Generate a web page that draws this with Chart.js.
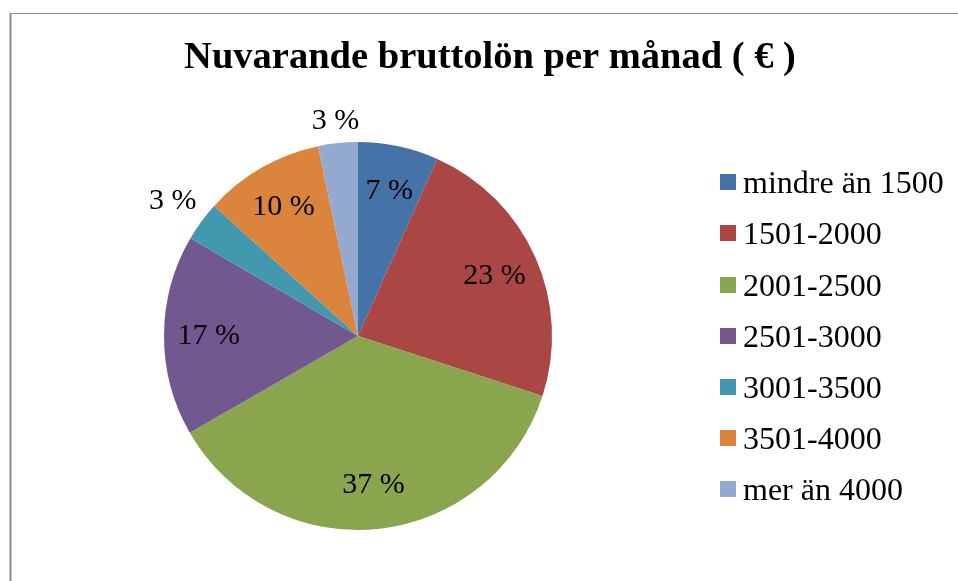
<!DOCTYPE html>
<html><head><meta charset="utf-8">
<script src="https://cdn.jsdelivr.net/npm/chart.js@4.4.0/dist/chart.umd.min.js"></script>
<style>html,body{margin:0;padding:0;background:#fff;} canvas{display:block;}</style>
</head><body>
<canvas id="c" width="958" height="581"></canvas>
<script>
const categories = ['mindre än 1500','1501-2000','2001-2500','2501-3000','3001-3500','3501-4000','mer än 4000'];
const shares = [6.7, 23.3, 36.7, 16.7, 3.3, 10.0, 3.3];
const colors = ['#4572A7','#AA4643','#89A54E','#71588F','#4198AF','#DB843D','#93A9CF'];
const titleText = 'Nuvarande bruttolön per månad ( € )';
const SERIF = '"Liberation Serif","Times New Roman",Times,serif';

const decor = {
  id: 'decor',
  afterDraw(chart) {
    const ctx = chart.ctx;
    ctx.save();
    // frame
    ctx.strokeStyle = '#8c8c8c';
    ctx.lineWidth = 1;
    ctx.beginPath(); ctx.moveTo(10, 13.5); ctx.lineTo(958, 13.5); ctx.stroke();
    ctx.lineWidth = 2;
    ctx.beginPath(); ctx.moveTo(10.5, 13); ctx.lineTo(10.5, 581); ctx.stroke();
    // title
    ctx.fillStyle = '#000';
    ctx.font = 'bold 38.5px ' + SERIF;
    ctx.textAlign = 'center';
    ctx.textBaseline = 'alphabetic';
    ctx.fillText(titleText, 490, 68);
    // legend
    ctx.font = '32px ' + SERIF;
    ctx.textAlign = 'left';
    categories.forEach((c, i) => {
      const cy = 182.3 + i * 51.1;
      ctx.fillStyle = colors[i];
      ctx.fillRect(720, Math.round(cy - 8), 16, 16);
      ctx.fillStyle = '#000';
      ctx.fillText(c, 743, cy + 11);
    });
    // data labels
    const meta = chart.getDatasetMeta(0);
    const total = shares.reduce((a, b) => a + b, 0);
    ctx.font = '30px ' + SERIF;
    ctx.textAlign = 'center';
    ctx.textBaseline = 'middle';
    meta.data.forEach((arc, i) => {
      const p = arc.getProps(['x', 'y', 'startAngle', 'endAngle', 'outerRadius'], true);
      const mid = (p.startAngle + p.endAngle) / 2;
      const txt = Math.round(shares[i] / total * 100) + ' %';
      const w = ctx.measureText(txt).width;
      const cos = Math.cos(mid), sin = Math.sin(mid);
      let r;
      if (shares[i] < 5) {
        const ext = Math.abs(cos) * w / 2 + Math.abs(sin) * 11;
        r = p.outerRadius + 10 + ext;
      } else {
        r = p.outerRadius * 0.77;
      }
      ctx.fillStyle = '#000';
      ctx.fillText(txt, p.x + r * cos, p.y + r * sin + 1);
    });
    ctx.restore();
  }
};

new Chart(document.getElementById('c'), {
  type: 'pie',
  data: {
    labels: categories,
    datasets: [{
      data: shares,
      backgroundColor: colors,
      borderWidth: 0,
      clip: false
    }]
  },
  options: {
    responsive: false,
    animation: false,
    layout: { padding: { left: 164, right: 406, top: 142, bottom: 51 } },
    plugins: { legend: { display: false }, tooltip: { enabled: false }, title: { display: false } }
  },
  plugins: [decor]
});
</script>
</body></html>
